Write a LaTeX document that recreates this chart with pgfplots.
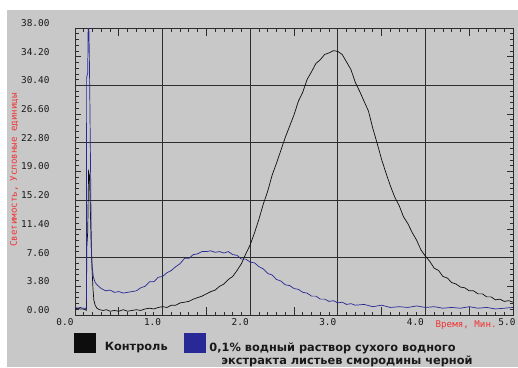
\documentclass[border=0pt]{standalone}
\usepackage{pgfplots}
\pgfplotsset{compat=1.18}
\usepackage{fontspec}
\setmainfont{DejaVu Sans}
\newfontfamily\monofont{DejaVu Sans Mono}
\definecolor{bg}{RGB}{200,200,200}
\definecolor{navyline}{RGB}{40,40,150}
\definecolor{navybox}{RGB}{32,36,115}
\definecolor{gridc}{RGB}{45,45,45}
\definecolor{tickc}{RGB}{25,25,25}
\definecolor{lblred}{RGB}{240,50,50}

\begin{document}
\begin{tikzpicture}[x=1pt,y=1pt]
\useasboundingbox (0,0) rectangle (518,367);
\fill[bg] (7,0) rectangle (518,357);
\begin{axis}[
  at={(75pt,52pt)}, anchor=south west,
  scale only axis, width=438pt, height=287pt,
  xmin=0, xmax=5, ymin=0, ymax=38,
  axis background/.style={fill=bg},
  axis line style={gridc, line width=0.8pt},
  xtick={0,1,2,3,4,5},
  xticklabels={0.0,1.0,2.0,3.0,4.0,5.0\kern-4pt},
  minor x tick num=9,
  ytick={0,3.8,7.6,11.4,15.2,19,22.8,26.6,30.4,34.2,38},
  yticklabels={0.00,3.80,7.60,11.40,15.20,19.00,22.80,26.60,30.40,34.20,38.00},
  minor y tick num=4,
  xmajorgrids=true,
  extra y ticks={7.6,15.2,22.8,30.4}, extra y tick labels={},
  extra y tick style={grid=major, major tick length=0pt},
  extra x ticks={0.5,1.5,2.5,3.5,4.5}, extra x tick labels={},
  extra x tick style={grid=none, major tick length=8pt},
  grid style={gridc, line width=0.8pt},
  major tick length=6pt, minor tick length=3.5pt,
  every tick/.style={gridc, line width=0.8pt},
  tick align=inside,
  x tick label style={font=\monofont\fontsize{9.4}{10}\selectfont, text=tickc, anchor=north east, xshift=2pt},
  y tick label style={font=\monofont\fontsize{9.4}{10}\selectfont, text=tickc, anchor=east, xshift=-22pt, yshift=5pt},
  xlabel={Время, Мин.},
  xlabel style={at={(axis description cs:0.963,0)}, anchor=north east, inner sep=0pt, yshift=-6pt, font=\monofont\fontsize{9.2}{10}\selectfont, text=lblred},
  ylabel={Светимость, Условные единицы},
  ylabel style={at={(axis description cs:-0.139,0.505)}, anchor=center, inner sep=0pt, font=\monofont\fontsize{9.1}{10}\selectfont, text=lblred},
  legend columns=2,
  legend image code/.code={\fill[#1] (0pt,-5pt) rectangle (21pt,14pt);},
  legend style={at={(axis description cs:-0.002,-0.0627)}, anchor=north west,
    draw=none, fill=none, inner sep=0pt, outer sep=0pt,
    font=\bfseries\fontsize{11.35}{13.5}\selectfont, text=black!90,
    nodes={inner sep=0pt},
    /tikz/column 1/.style={column sep=9pt},
    /tikz/column 2/.style={column sep=16pt},
    /tikz/column 3/.style={column sep=4pt}},
  legend cell align=left,
]
\addplot[color=black!95, line width=0.7pt] coordinates {
(0.00,0.8) (0.03,0.9) (0.06,0.8) (0.09,0.8) (0.12,0.7) (0.13,0.6)
(0.135,9.0) (0.145,11.0) (0.155,19.0) (0.165,18.5) (0.175,14.0) (0.185,9.5)
(0.195,6.0) (0.205,3.5) (0.215,2.0) (0.23,1.3) (0.25,0.9) (0.28,0.7)
(0.32,0.6) (0.36,0.7) (0.40,0.5) (0.45,0.6) (0.50,0.5) (0.55,0.7)
(0.60,0.5) (0.65,0.6) (0.70,0.7) (0.75,0.6) (0.80,0.8) (0.85,0.9)
(0.90,0.8) (0.95,1.0) (1.00,1.1) (1.05,1.0) (1.10,1.3) (1.15,1.3)
(1.20,1.6) (1.25,1.7) (1.30,1.8) (1.35,2.1) (1.40,2.3) (1.45,2.5)
(1.50,2.8) (1.55,3.1) (1.60,3.3) (1.65,3.8) (1.70,4.1) (1.75,4.7)
(1.80,5.1) (1.85,5.9) (1.90,6.8) (1.95,8.1) (2.00,9.3) (2.05,10.9)
(2.10,12.7) (2.15,14.7) (2.20,16.4) (2.25,18.5) (2.30,20.1) (2.35,21.8)
(2.40,23.5) (2.45,25.0) (2.50,26.5) (2.55,28.3) (2.60,29.5) (2.65,31.2)
(2.70,32.2) (2.75,33.3) (2.80,33.8) (2.85,34.5) (2.90,34.7) (2.95,35.0)
(3.00,34.9) (3.05,34.5) (3.10,33.5) (3.15,32.5) (3.20,30.8) (3.25,29.6)
(3.30,28.3) (3.35,27.0) (3.40,24.7) (3.45,22.7) (3.50,20.6) (3.55,18.8)
(3.60,17.1) (3.65,15.6) (3.70,14.5) (3.75,13.0) (3.80,12.1) (3.85,10.9)
(3.90,9.9) (3.95,8.6) (4.00,7.8) (4.05,7.1) (4.10,6.2) (4.15,5.9)
(4.20,5.1) (4.25,4.9) (4.30,4.3) (4.35,4.1) (4.40,3.7) (4.45,3.6)
(4.50,3.2) (4.55,3.2) (4.60,2.8) (4.65,2.8) (4.70,2.4) (4.75,2.4)
(4.80,2.0) (4.85,2.1) (4.90,1.8) (4.95,1.9) (5.00,1.7)
};
\addlegendentry{Контроль}
\addplot[color=navyline, line width=0.7pt] coordinates {
(0.00,1.0) (0.03,0.9) (0.06,1.0) (0.09,0.9) (0.12,0.9) (0.13,0.8)
(0.133,31.5) (0.145,32.0) (0.150,38.0) (0.158,38.0) (0.163,35.0) (0.170,28.0)
(0.178,19.0) (0.186,9.0) (0.195,6.5) (0.21,5.0) (0.23,4.3) (0.26,3.9)
(0.30,3.5) (0.35,3.2) (0.40,3.3) (0.45,3.0) (0.50,3.1) (0.55,2.9)
(0.60,3.0) (0.65,3.1) (0.70,3.2) (0.75,3.6) (0.80,3.8) (0.85,4.4)
(0.90,4.4) (0.95,5.0) (1.00,5.1) (1.05,5.6) (1.10,5.9) (1.15,6.4)
(1.20,6.8) (1.25,7.5) (1.30,7.5) (1.35,8.0) (1.40,8.1) (1.45,8.4)
(1.50,8.4) (1.55,8.5) (1.60,8.3) (1.65,8.4) (1.70,8.2) (1.75,8.4)
(1.80,8.0) (1.85,7.9) (1.90,7.4) (1.95,7.4) (2.00,7.0) (2.05,6.9)
(2.10,6.4) (2.15,6.1) (2.20,5.5) (2.25,5.3) (2.30,4.7) (2.35,4.5)
(2.40,4.0) (2.45,3.9) (2.50,3.5) (2.55,3.4) (2.60,3.0) (2.65,2.9)
(2.70,2.5) (2.75,2.5) (2.80,2.1) (2.85,2.1) (2.90,1.8) (2.95,1.9)
(3.00,1.6) (3.05,1.7) (3.10,1.4) (3.15,1.5) (3.20,1.3) (3.30,1.4)
(3.40,1.1) (3.50,1.3) (3.60,1.0) (3.70,1.1) (3.80,1.0) (3.90,1.2)
(4.00,1.0) (4.10,1.1) (4.20,0.9) (4.30,1.0) (4.40,0.9) (4.50,1.1)
(4.60,0.9) (4.70,1.0) (4.80,0.8) (4.90,0.9) (5.00,1.0)
};
\addlegendentry{\begin{tabular}[t]{@{}l@{}}0,1\% водный раствор сухого водного\\\hspace*{12pt}экстракта листьев смородины черной\end{tabular}}
\end{axis}
\end{tikzpicture}
\end{document}
